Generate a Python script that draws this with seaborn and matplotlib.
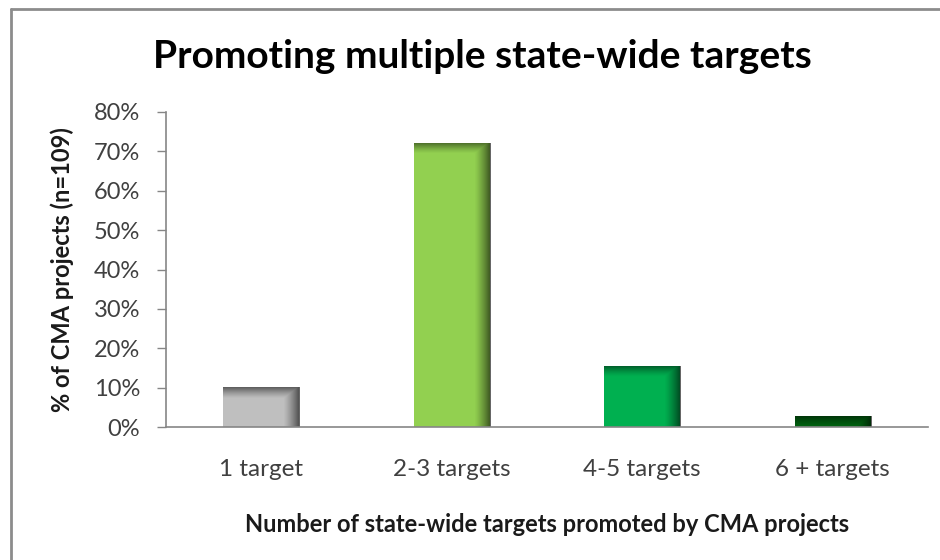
import numpy as np
import matplotlib
matplotlib.use("Agg")
import matplotlib.pyplot as plt
import seaborn as sns

categories = ["1 target", "2-3 targets", "4-5 targets", "6 + targets"]
shares = [10.1, 72.2, 15.5, 2.9]
bar_colors = ["#BFBFBF", "#92D050", "#00B050", "#006410"]
yticks = [0, 10, 20, 30, 40, 50, 60, 70, 80]

sns.set_theme(style="white")
plt.rcParams["font.family"] = ["Lato", "DejaVu Sans"]

fig = plt.figure(figsize=(9.4, 5.6), dpi=100)
ax = fig.add_axes([166 / 940, 1 - 427 / 560, 762 / 940, 315 / 560])

sns.barplot(x=categories, y=shares, hue=categories, palette=bar_colors,
            legend=False, width=0.4, ax=ax, saturation=1, linewidth=0)

ax.set_xlim(-0.5, 3.5)
ax.set_ylim(0, 80)
ax.set_yticks(yticks)
ax.set_yticklabels([f"{t}%" for t in yticks])
ax.set_xticks(range(len(categories)))
ax.set_xticklabels(categories)
ax.set_xticks(np.arange(-0.5, 3.6, 1.0), minor=True)
ax.tick_params(axis="x", which="major", length=0, pad=23, labelsize=17.5, labelcolor="#404040")
ax.tick_params(axis="x", which="minor", length=6, width=1, color="#868686", direction="out")
ax.tick_params(axis="y", length=6.5, width=1, color="#868686", direction="out",
               labelsize=17, labelcolor="#404040", pad=12, left=True)

for side in ["top", "right"]:
    ax.spines[side].set_visible(False)
for side in ["left", "bottom"]:
    ax.spines[side].set_color("#868686")
    ax.spines[side].set_linewidth(1.2)

# shading on top and right edge, like the office bevel
fig.canvas.draw()
for p in list(ax.patches):
    bb = p.get_window_extent()
    w_px, h_px = max(int(round(bb.width)), 2), max(int(round(bb.height)), 2)
    xx = np.arange(w_px)[None, :]
    yy = np.arange(h_px)[:, None]
    right = 0.6 * np.clip(1 - (w_px - 1 - xx) / 16.0, 0, 1) ** 1.3
    top = 0.5 * np.clip(1 - yy / 11.0, 0, 1) ** 1.3
    alpha = np.maximum(right, top)
    img = np.zeros((h_px, w_px, 4))
    img[..., 3] = alpha
    x0, y0 = p.get_x(), p.get_y()
    im = ax.imshow(img, extent=(x0, x0 + p.get_width(), y0, y0 + p.get_height()),
                   aspect="auto", origin="upper", zorder=p.get_zorder() + 0.1,
                   interpolation="bilinear")
    im.set_clip_path(p)
ax.set_xlim(-0.5, 3.5)
ax.set_ylim(0, 80)

ax.set_xlabel("Number of state-wide targets promoted by CMA projects",
              fontsize=17, fontweight="bold", color="#1a1a1a", labelpad=24)
ax.set_ylabel("% of CMA projects (n=109)", fontsize=17, fontweight="bold",
              color="#1a1a1a", labelpad=14)
fig.text(482 / 940, 1 - 57 / 560, "Promoting multiple state-wide targets",
         ha="center", va="center", fontsize=28, fontweight="bold", color="#000000")

# chart frame
fig.add_artist(plt.Line2D([11 / 940, 11 / 940], [0, 1 - 9 / 560], color="#8c8c8c", lw=2))
fig.add_artist(plt.Line2D([11 / 940, 1], [1 - 9 / 560, 1 - 9 / 560], color="#8c8c8c", lw=2))

fig.savefig("out.png", dpi=100)
